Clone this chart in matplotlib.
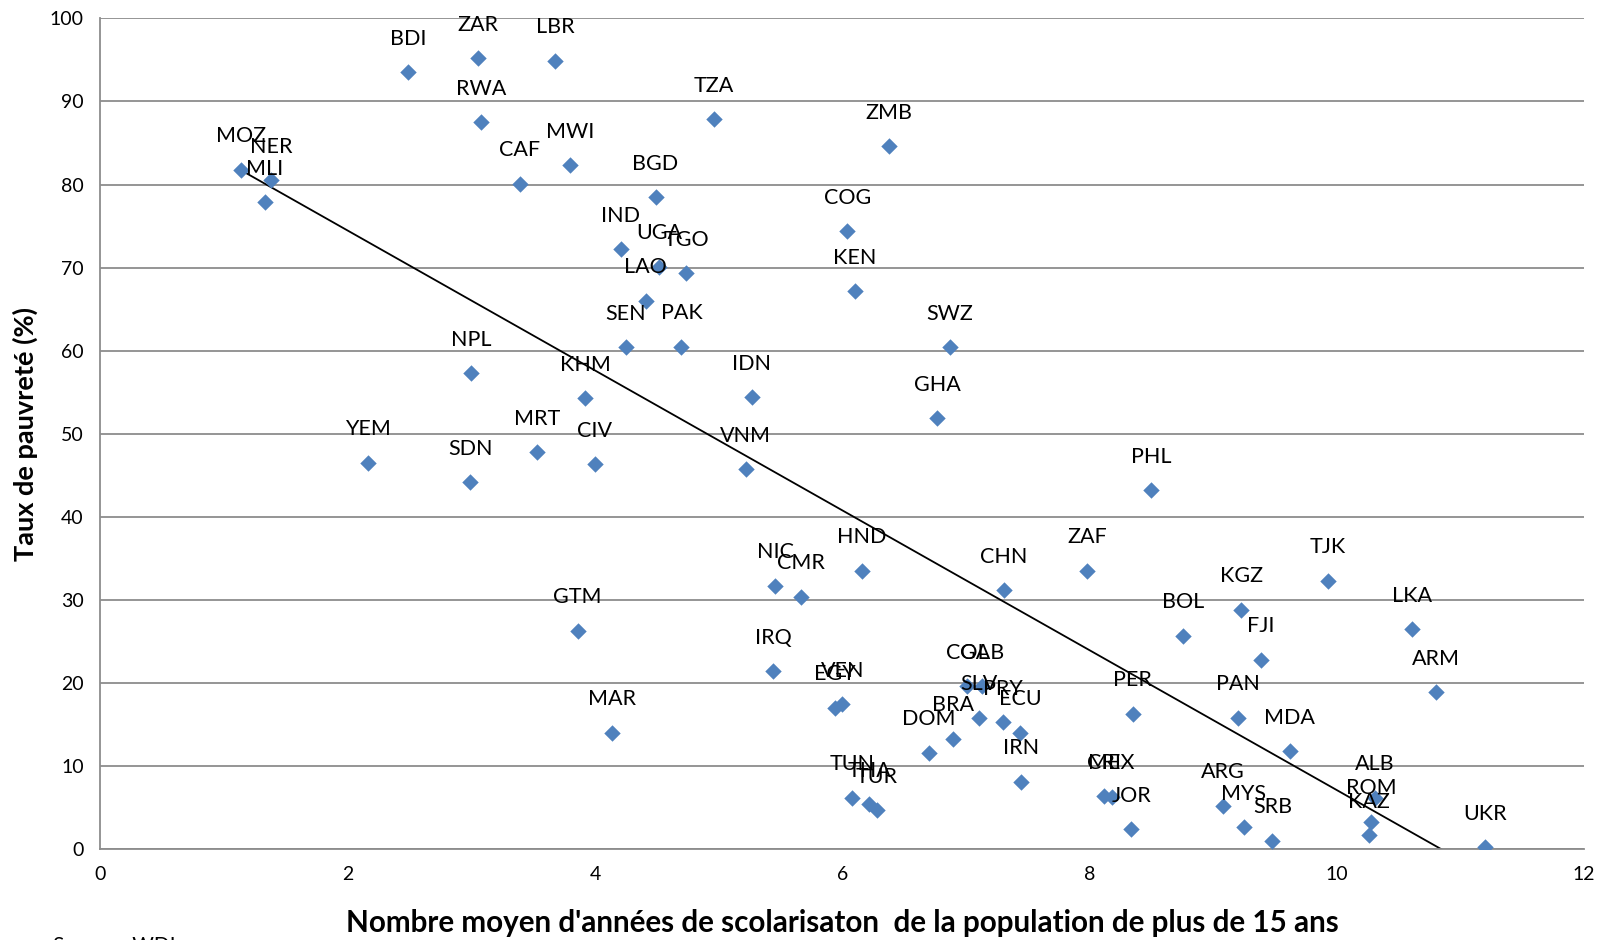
import numpy as np
import matplotlib
matplotlib.use("Agg")
import matplotlib.pyplot as plt

# pays, années de scolarisation, taux de pauvreté
codes = ["MOZ", "NER", "MLI", "BDI", "ZAR", "LBR", "RWA", "CAF", "MWI", "TZA",
         "ZMB", "BGD", "COG", "IND", "UGA", "TGO", "LAO", "KEN", "SWZ", "SEN",
         "PAK", "NPL", "KHM", "IDN", "GHA", "YEM", "SDN", "MRT", "CIV", "VNM",
         "PHL", "ZAF", "TJK", "HND", "NIC", "CMR", "CHN", "KGZ", "BOL", "LKA",
         "GTM", "FJI", "IRQ", "COL", "GAB", "SLV", "PRY", "BRA", "ECU", "DOM",
         "IRN", "TUN", "THA", "TUR", "EGY", "VEN", "CRI", "MEX", "JOR", "ARG",
         "MYS", "SRB", "MDA", "ALB", "ROM", "KAZ", "UKR", "PER", "PAN", "ARM",
         "MAR"]
scol = [1.14, 1.38, 1.33, 2.49, 3.05, 3.68, 3.08, 3.39, 3.80, 4.96,
        6.38, 4.49, 6.04, 4.21, 4.52, 4.74, 4.41, 6.10, 6.87, 4.25,
        4.70, 3.00, 3.92, 5.27, 6.77, 2.16, 2.99, 3.53, 4.00, 5.22,
        8.50, 7.98, 9.93, 6.16, 5.46, 5.67, 7.31, 9.23, 8.76, 10.61,
        3.86, 9.39, 5.44, 7.01, 7.13, 7.11, 7.30, 6.90, 7.44, 6.70,
        7.45, 6.08, 6.22, 6.28, 5.94, 6.00, 8.12, 8.18, 8.34, 9.08,
        9.25, 9.48, 9.62, 10.31, 10.28, 10.26, 11.20, 8.35, 9.20, 10.80,
        4.14]
pauv = [81.8, 80.5, 77.9, 93.5, 95.2, 94.9, 87.5, 80.1, 82.3, 87.9,
        84.6, 78.5, 74.4, 72.2, 70.1, 69.3, 66.0, 67.2, 60.4, 60.4,
        60.5, 57.3, 54.3, 54.4, 51.9, 46.5, 44.2, 47.8, 46.3, 45.7,
        43.2, 33.5, 32.3, 33.5, 31.7, 30.4, 31.2, 28.8, 25.7, 26.5,
        26.3, 22.8, 21.4, 19.6, 19.6, 15.8, 15.3, 13.3, 14.0, 11.6,
        8.1, 6.2, 5.4, 4.7, 17.0, 17.4, 6.4, 6.3, 2.4, 5.2,
        2.6, 1.0, 11.8, 6.2, 3.3, 1.7, 0.25, 16.3, 15.8, 18.9,
        14.0]

police = ["Lato", "DejaVu Sans"]
plt.rcParams['font.family'] = police

fig = plt.figure(figsize=(16.08, 9.4), dpi=100)
ax = fig.add_axes([0.0625, 0.0968, 0.9225, 0.8836])

x = np.array(scol)
y = np.array(pauv)

# grille horizontale
ax.set_axisbelow(True)
ax.yaxis.grid(True, color="#8c8c8c", linewidth=1.3)

# droite de tendance (moindres carrés)
a, b = np.polyfit(x, y, 1)
xt = np.array([x.min(), x.max()])
ax.plot(xt, a * xt + b, color="black", linewidth=1.3, zorder=2)

ax.scatter(x, y, marker="D", s=70, color="#4F81BD", zorder=3, linewidths=0)

for c, xi, yi in zip(codes, scol, pauv):
    ax.annotate(c, (xi, yi), xytext=(0, 24), textcoords="offset points",
                ha="center", va="center", fontsize=15.5, color="black", zorder=4)

ax.set_xlim(0, 12)
ax.set_ylim(0, 100)
ax.set_xticks(range(0, 13, 2))
ax.set_yticks(range(0, 101, 10))
ax.tick_params(axis="both", length=0, labelsize=14, pad=12)

for s in ["top", "right"]:
    ax.spines[s].set_visible(False)
for s in ["left", "bottom"]:
    ax.spines[s].set_color("#8c8c8c")
    ax.spines[s].set_linewidth(1.3)

fig.text(0.0155, 0.538, "Taux de pauvreté (%)", rotation=90, ha="center",
         va="center", fontsize=19.5, fontweight="bold")
fig.text(0.524, 0.018, "Nombre moyen d'années de scolarisaton  de la population de plus de 15 ans",
         ha="center", va="center", fontsize=21.3, fontweight="bold")
fig.text(0.033, 0.004, "Source : WDI", ha="left", va="top", fontsize=15)

fig.savefig("out.png", dpi=100)
